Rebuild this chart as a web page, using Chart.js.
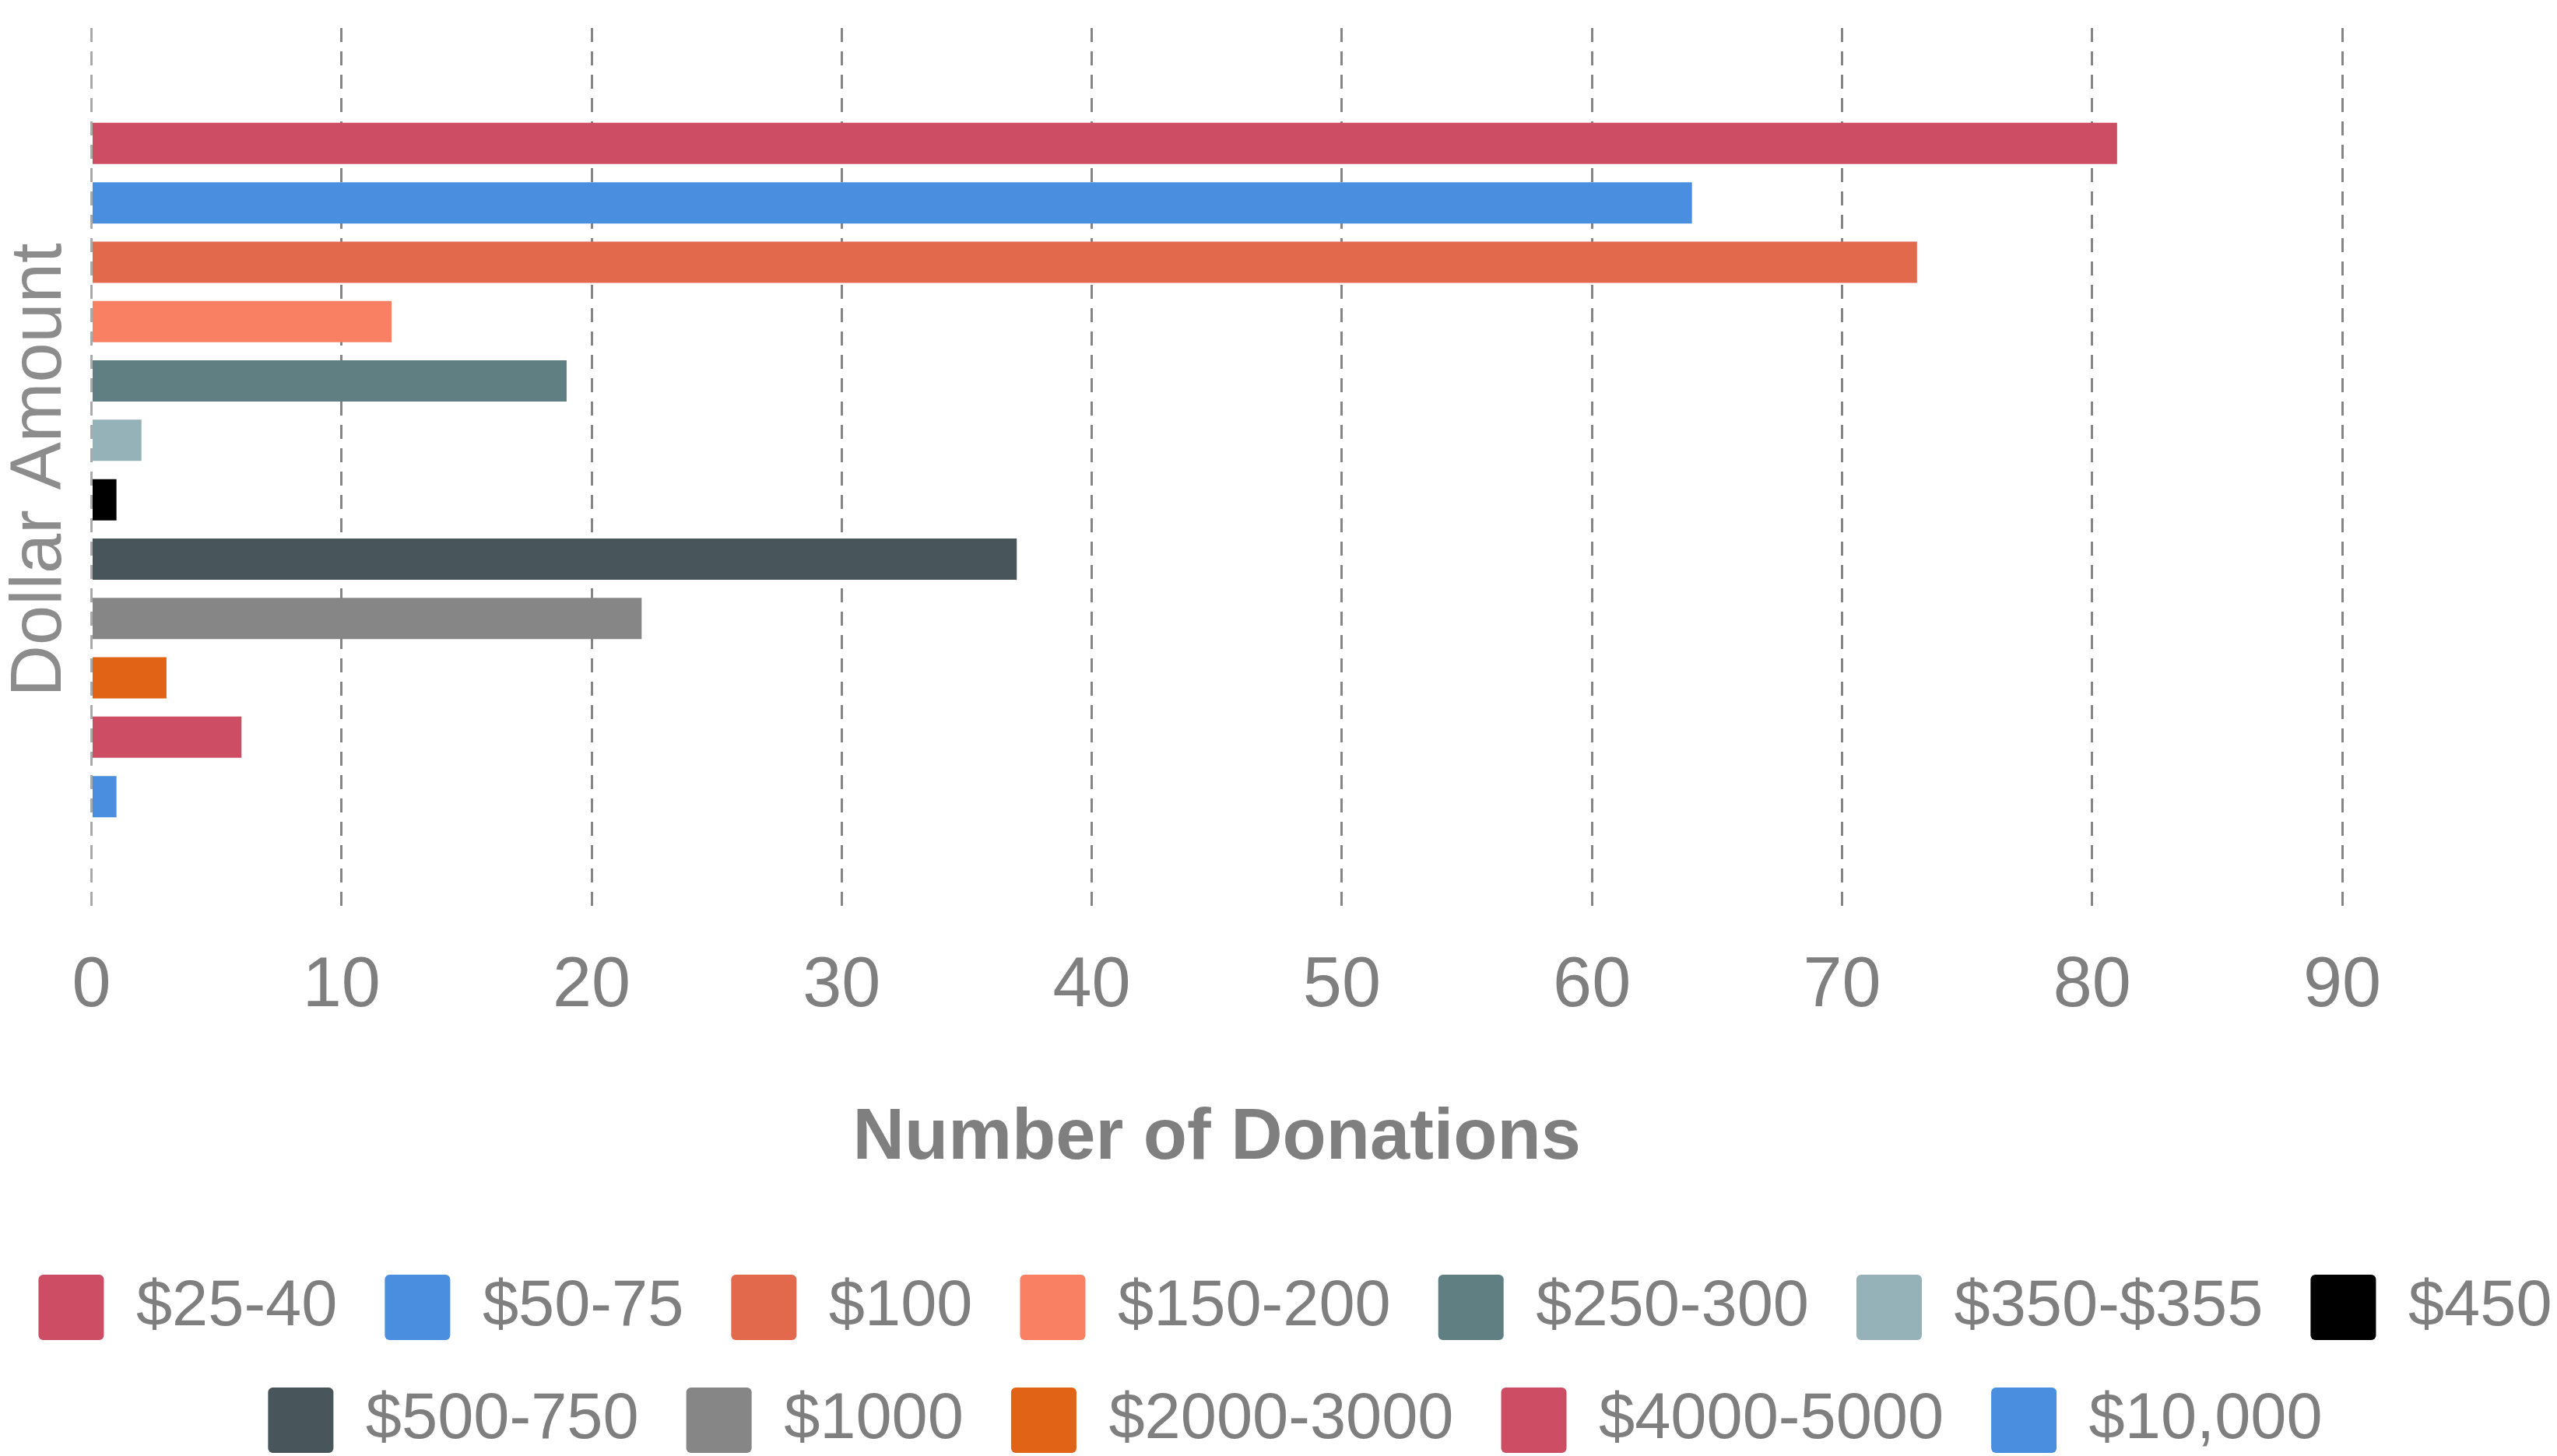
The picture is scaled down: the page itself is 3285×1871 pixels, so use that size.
<!DOCTYPE html>
<html>
<head>
<meta charset="utf-8">
<title>Donations by Dollar Amount</title>
<script src="https://cdn.jsdelivr.net/npm/chart.js@4/dist/chart.umd.min.js"></script>
<style>
  html, body { margin:0; padding:0; background:#fff; overflow:hidden; width:3285px; height:1871px; }
  #wrap { position:absolute; left:-66px; top:0; width:3460px; height:1900px; }
</style>
</head>
<body>
<div id="wrap"><canvas id="donationChart"></canvas></div>
<script>
// one series per dollar bracket (legend entries)
const brackets = ['$25-40', '$50-75', '$100', '$150-200', '$250-300', '$350-$355', '$450',
                  '$500-750', '$1000', '$2000-3000', '$4000-5000', '$10,000'];
const donationCounts = [81, 64, 73, 12, 19, 2, 1, 37, 22, 3, 6, 1];
const bracketColors = ['#cd4e64', '#4a8fdf', '#e3694c', '#fa8063', '#607f83', '#94b2b8', '#000000',
                       '#48565c', '#868686', '#e06316', '#cd4e64', '#4a8fdf'];
const xTicks = [0, 10, 20, 30, 40, 50, 60, 70, 80, 90];

const FONT = '"Liberation Sans", Arial, sans-serif';
const GREY = '#7f7f7f';

const datasets = brackets.map((b, i) => ({
    label: b,
    data: [donationCounts[i]],
    backgroundColor: bracketColors[i],
    borderWidth: 0,
    categoryPercentage: 0.806,
    barPercentage: 0.695
}));

new Chart(document.getElementById('donationChart').getContext('2d'), {
    type: 'bar',
    data: { labels: ['Donations'], datasets },
    options: {
        indexAxis: 'y',
        responsive: true, maintainAspectRatio: false, animation: false,
        layout: { padding: { top: 36, bottom: 23, left: 0, right: 0 } },
        plugins: {
            tooltip: { enabled: false },
            legend: {
                position: 'bottom',
                labels: {
                    boxWidth: 84, boxHeight: 84, padding: 61,
                    useBorderRadius: true, borderRadius: 6,
                    color: GREY, font: { family: FONT, size: 83 }
                }
            }
        },
        scales: {
            x: {
                min: xTicks[0], max: xTicks[xTicks.length - 1],
                afterBuildTicks: s => { s.ticks = xTicks.map(v => ({ value: v })); },
                afterFit: s => { s.height = 405; },
                grid: {
                    drawTicks: false, lineWidth: 3,
                    color: ctx => ctx.tick && ctx.tick.value === 0 ? '#aaaaaa' : '#858585'
                },
                border: { display: false, dash: [18, 12] },
                ticks: { padding: 42, color: GREY, font: { family: FONT, size: 90 } },
                title: {
                    display: true, text: 'Number of Donations', color: GREY,
                    font: { family: FONT, size: 92, weight: 'bold' },
                    padding: { top: 0, bottom: 58 }
                }
            },
            y: {
                afterFit: s => { s.width = 183.5; },
                grid: { display: false },
                border: { display: false },
                ticks: { display: false },
                title: {
                    display: true, text: 'Dollar Amount', color: '#8c8c8c',
                    font: { family: FONT, size: 92 },
                    padding: { top: 63, bottom: 0 }
                }
            },
            // empty space on the right, as in the original layout
            yRight: {
                position: 'right', type: 'linear', display: true,
                afterFit: s => { s.width = 385; },
                grid: { display: false }, border: { display: false }, ticks: { display: false }
            }
        }
    }
});
</script>
</body>
</html>
